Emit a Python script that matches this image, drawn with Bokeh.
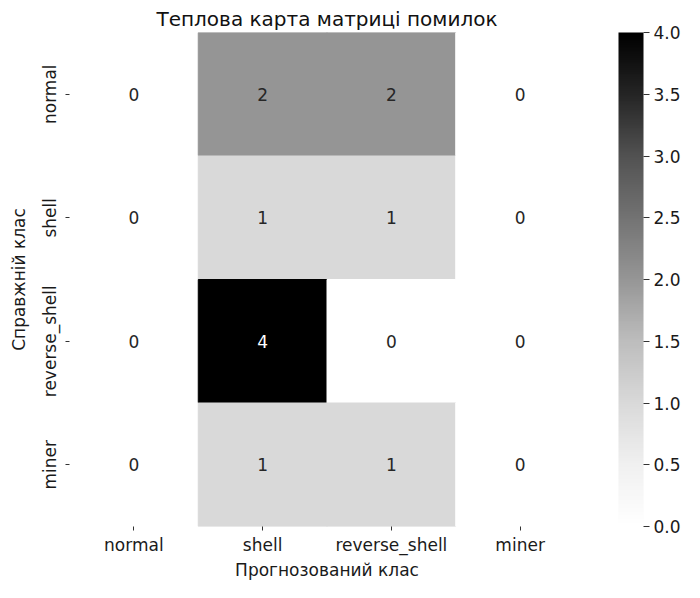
import numpy as np
from bokeh.plotting import figure
from bokeh.models import ColumnDataSource, LinearColorMapper, ColorBar, FixedTicker, PrintfTickFormatter
from bokeh.palettes import Greys9
from bokeh.embed import file_html
from bokeh.resources import INLINE
from bokeh.core.properties import value

# ---- data ----
classes = ["normal", "shell", "reverse_shell", "miner"]
row_normal = [0, 2, 2, 0]
row_shell = [0, 1, 1, 0]
row_reverse_shell = [0, 4, 0, 0]
row_miner = [0, 1, 1, 0]
matrix = [row_normal, row_shell, row_reverse_shell, row_miner]
cbar_ticks = [0.0, 0.5, 1.0, 1.5, 2.0, 2.5, 3.0, 3.5, 4.0]
title_text = "Теплова карта матриці помилок"
xlabel_text = "Прогнозований клас"
ylabel_text = "Справжній клас"

# ---- matplotlib-like "Greys" palette (white -> black) ----
anchors = list(reversed(Greys9))
rgb = np.array([[int(c[i:i + 2], 16) for i in (1, 3, 5)] for c in anchors], float)
pos = np.linspace(0, 1, len(anchors))
tt = np.linspace(0, 1, 256)
palette = ['#%02x%02x%02x' % tuple(int(round(np.interp(t, pos, rgb[:, k]))) for k in range(3)) for t in tt]

vmin, vmax = 0.0, 4.0
mapper = LinearColorMapper(palette=palette, low=vmin, high=vmax)

xs, ys, vals, labels, tcolors = [], [], [], [], []
for r, true_cls in enumerate(classes):
    for c, pred_cls in enumerate(classes):
        v = matrix[r][c]
        xs.append(pred_cls)
        ys.append(true_cls)
        vals.append(v)
        labels.append(str(v))
        idx = int(round((v - vmin) / (vmax - vmin) * 255))
        col = palette[idx]
        lum = (0.2126 * int(col[1:3], 16) + 0.7152 * int(col[3:5], 16) + 0.0722 * int(col[5:7], 16)) / 255
        tcolors.append("#262626" if lum > 0.408 else "#ffffff")

src = ColumnDataSource(dict(x=xs, y=ys, v=vals, label=labels, tc=tcolors))

FONT = "DejaVu Sans"

p = figure(width=684, height=582, x_range=classes, y_range=list(reversed(classes)),
           output_backend="svg", toolbar_location=None,
           min_border_left=69, min_border_right=100, min_border_top=32, min_border_bottom=50)
p.outline_line_color = None
p.grid.grid_line_color = None
p.background_fill_color = "white"

p.rect(x="x", y="y", width=1, height=1, source=src,
       fill_color={"field": "v", "transform": mapper},
       line_color={"field": "v", "transform": mapper}, line_width=1)
p.text(x="x", y="y", text="label", source=src, text_align="center", text_baseline="middle",
       text_font=value(FONT), text_font_size="17px", text_color="tc")

p.title.text = title_text
p.title.align = "center"
p.title.text_font = FONT
p.title.text_font_size = "20px"
p.title.text_font_style = "normal"
p.title.text_color = "#111111"
p.title.standoff = 4

for ax in (p.xaxis, p.yaxis):
    ax.axis_line_color = None
    ax.major_tick_in = 0
    ax.major_tick_out = 4
    ax.major_tick_line_color = "#333333"
    ax.minor_tick_line_color = None
    ax.major_label_text_font = FONT
    ax.major_label_text_font_size = "17px"
    ax.major_label_text_color = "#1a1a1a"
    ax.axis_label_text_font = FONT
    ax.axis_label_text_font_size = "17px"
    ax.axis_label_text_font_style = "normal"
    ax.axis_label_text_color = "#1a1a1a"

p.xaxis.axis_label = xlabel_text
p.yaxis.axis_label = ylabel_text
p.xaxis.major_label_standoff = 4
p.xaxis.axis_label_standoff = 2
p.yaxis.major_label_orientation = "vertical"
p.yaxis.major_label_standoff = 6
p.yaxis.axis_label_standoff = 8

cb = ColorBar(color_mapper=mapper, ticker=FixedTicker(ticks=cbar_ticks),
              formatter=PrintfTickFormatter(format="%.1f"),
              width=25, padding=0, margin=0, location=(34, 0), bar_line_color=None,
              major_tick_in=0, major_tick_out=6, major_tick_line_color="#333333",
              minor_tick_line_color=None,
              major_label_text_font=FONT, major_label_text_font_size="17px",
              major_label_text_color="#1a1a1a", label_standoff=4,
              background_fill_color=None, border_line_color=None)
p.add_layout(cb, "right")

open("out.html", "w").write(file_html(p, INLINE))
